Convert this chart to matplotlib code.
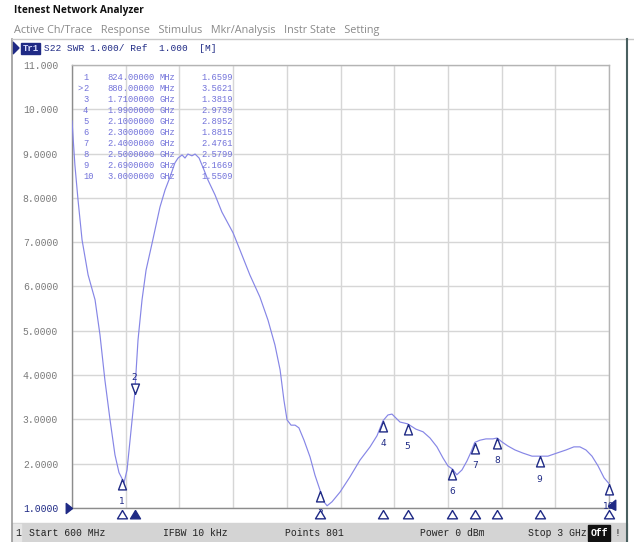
import matplotlib
matplotlib.use("Agg")
import matplotlib.pyplot as plt
from matplotlib.lines import Line2D
from matplotlib.patches import Rectangle, Polygon

# trace S22 SWR (MHz, SWR)
freq_mhz = [600, 613, 627, 645, 672, 703, 725, 747, 770, 792,
            810, 824, 832, 846, 864, 880, 895, 913, 931, 958,
            993, 1016, 1038, 1060, 1074, 1092, 1105, 1118, 1136, 1150,
            1168, 1190, 1208, 1239, 1270, 1320, 1351, 1395, 1440, 1476,
            1507, 1530, 1547, 1561, 1579, 1597, 1614, 1637, 1664, 1686,
            1710, 1726, 1740, 1762, 1798, 1842, 1887, 1932, 1963, 1990,
            2012, 2030, 2048, 2066, 2100, 2137, 2169, 2200, 2231, 2258,
            2280, 2300, 2320, 2343, 2365, 2383, 2400, 2423, 2450, 2481,
            2500, 2522, 2548, 2580, 2615, 2656, 2690, 2727, 2767, 2808,
            2843, 2870, 2897, 2924, 2951, 2978, 3000]
swr = [9.74, 8.74, 7.95, 7.05, 6.26, 5.70, 4.91, 3.89, 2.99, 2.20,
       1.80, 1.66, 1.56, 1.86, 2.76, 3.56, 4.79, 5.70, 6.37, 6.98,
       7.79, 8.18, 8.47, 8.79, 8.90, 8.97, 8.90, 8.99, 8.95, 8.99,
       8.90, 8.63, 8.40, 8.07, 7.68, 7.21, 6.82, 6.26, 5.76, 5.24,
       4.68, 4.12, 3.44, 2.99, 2.87, 2.87, 2.81, 2.53, 2.15, 1.74,
       1.38, 1.14, 1.05, 1.14, 1.36, 1.70, 2.08, 2.38, 2.63, 2.97,
       3.10, 3.12, 3.03, 2.94, 2.90, 2.78, 2.72, 2.58, 2.38, 2.13,
       1.95, 1.88, 1.75, 1.86, 2.06, 2.26, 2.48, 2.53, 2.56, 2.56,
       2.58, 2.49, 2.40, 2.31, 2.24, 2.17, 2.17, 2.17, 2.24, 2.31,
       2.38, 2.38, 2.31, 2.17, 1.95, 1.68, 1.55]

# markers
mkr_num = ["1", "2", "3", "4", "5", "6", "7", "8", "9", "10"]
mkr_freq = [824, 880, 1710, 1990, 2100, 2300, 2400, 2500, 2690, 3000]
mkr_val = [1.6599, 3.5621, 1.3819, 2.9739, 2.8952, 1.8815, 2.4761, 2.5799, 2.1669, 1.5509]
mkr_freq_txt = ["824.00000", "880.00000", "1.7100000", "1.9900000", "2.1000000",
                "2.3000000", "2.4000000", "2.5000000", "2.6900000", "3.0000000"]
mkr_unit = ["MHz", "MHz", "GHz", "GHz", "GHz", "GHz", "GHz", "GHz", "GHz", "GHz"]
active = 1

ytick_vals = [1, 2, 3, 4, 5, 6, 7, 8, 9, 10, 11]
ytick_lbls = ["1.0000", "2.0000", "3.0000", "4.0000", "5.0000", "6.0000",
              "7.0000", "8.0000", "9.0000", "10.000", "11.000"]

W, H = 634, 542
MONO = "Liberation Mono"
NAVY = "#1f2a85"
TRACE = "#8686e6"
TBL = "#7272da"

def fx(x):
    return x / W

def fy(y):
    return 1 - y / H

fig = plt.figure(figsize=(W / 100, H / 100), dpi=100)
fig.patch.set_facecolor("white")

# window frame
fig.add_artist(Line2D([fx(12), fx(12)], [fy(39), 0], color="#9a9a9a", lw=1.2))
fig.add_artist(Line2D([fx(12), 1], [fy(39), fy(39)], color="#c8c8c8", lw=1))
fig.add_artist(Line2D([fx(627), fx(627)], [fy(39), 0], color="#4a6060", lw=1.5))

fig.text(fx(14), fy(11), "Itenest Network Analyzer", fontsize=7.3, fontweight="bold",
         family="Open Sans", va="center", ha="left", color="#111111")
fig.text(fx(14), fy(30), "Active Ch/Trace   Response   Stimulus   Mkr/Analysis   Instr State   Setting",
         fontsize=7.8, family="Open Sans", va="center", ha="left", color="#8a8a8a")

# trace header
fig.add_artist(Polygon([[fx(13), fy(42)], [fx(19), fy(48)], [fx(13), fy(54)]], closed=True,
                       color=NAVY, transform=fig.transFigure))
fig.add_artist(Rectangle((fx(21), fy(54)), fx(19), 11 / H, color=NAVY, transform=fig.transFigure))
fig.text(fx(30.5), fy(48.5), "Tr1", fontsize=6.5, family=MONO, color="#d8dcff",
         ha="center", va="center", fontweight="bold")
fig.text(fx(44), fy(48.5), "S22 SWR 1.000/ Ref  1.000  [M]", fontsize=6.8, family=MONO,
         color=NAVY, ha="left", va="center")

# plot area
ax = fig.add_axes([fx(72), fy(508), 537 / W, (508 - 65) / H])
ax.plot(freq_mhz, swr, color=TRACE, lw=0.85, zorder=3)
ax.set_xlim(600, 3000)
ax.set_ylim(1, 11)
ax.set_xticks(range(600, 3001, 240))
ax.set_yticks(ytick_vals)
ax.set_yticklabels(ytick_lbls, family=MONO, fontsize=7, color="#7a7a7a")
ax.get_yticklabels()[0].set_color(NAVY)
ax.tick_params(axis="y", length=0, pad=10)
ax.tick_params(axis="x", length=0, labelbottom=False)
ax.grid(True, color="#d6d6d6", lw=1)
ax.set_axisbelow(True)
for s in ax.spines.values():
    s.set_color("#b4b4b4")
    s.set_linewidth(1)
ax.spines["left"].set_color("#8c8c8c")
ax.spines["bottom"].set_color("#8c8c8c")

# marker symbols (tip sits on the value)
tri_up = [(0, 0), (-0.38, -1), (0.38, -1), (0, 0)]
tri_dn = [(0, 0), (-0.38, 1), (0.38, 1), (0, 0)]
tri_low = [(0, 0), (-0.6, -1), (0.6, -1), (0, 0)]
xax = ax.get_xaxis_transform()
for i in range(len(mkr_freq)):
    f, v = mkr_freq[i], mkr_val[i]
    if i == active:
        ax.plot(f, v, marker=tri_dn, ms=15, mfc="white", mec=NAVY, mew=1, zorder=5, clip_on=False)
        ax.annotate(mkr_num[i], (f, v), xytext=(0, 12), textcoords="offset points",
                    ha="center", va="center", fontsize=6.5, color=NAVY, annotation_clip=False)
        ax.plot(f, -0.004, marker=tri_low, ms=12, mfc=NAVY, mec=NAVY, mew=1,
                transform=xax, clip_on=False, zorder=5)
    else:
        ax.plot(f, v, marker=tri_up, ms=15, mfc="white", mec=NAVY, mew=1, zorder=5, clip_on=False)
        ax.annotate(mkr_num[i], (f, v), xytext=(0, -16.5), textcoords="offset points",
                    ha="center", va="center", fontsize=6.5, color=NAVY, annotation_clip=False)
        ax.plot(f, -0.004, marker=tri_low, ms=12, mfc="white", mec=NAVY, mew=1,
                transform=xax, clip_on=False, zorder=5)

# reference level pointer and stop pointer
ax.plot(600, 1, marker=[(0, 0), (-1, 0.8), (-1, -0.8), (0, 0)], ms=9, color=NAVY,
        clip_on=False, zorder=6)
ax.plot(3000, 1.05, marker=[(-0.2, 0), (1, 1), (1, -0.6), (-0.2, 0)], ms=9, color=NAVY,
        clip_on=False, zorder=6)

# marker table
for i in range(len(mkr_num)):
    y = 77 + i * 11.1
    if i == active:
        fig.text(fx(78), fy(y), ">", fontsize=6.3, family=MONO, color=TBL, ha="left", va="center")
    fig.text(fx(83), fy(y), mkr_num[i], fontsize=6.3, family=MONO, color=TBL, ha="left", va="center")
    fig.text(fx(107), fy(y), mkr_freq_txt[i], fontsize=6.3, family=MONO, color=TBL, ha="left", va="center")
    fig.text(fx(160), fy(y), mkr_unit[i], fontsize=6.3, family=MONO, color=TBL, ha="left", va="center")
    fig.text(fx(233), fy(y), "%.4f" % mkr_val[i], fontsize=6.3, family=MONO, color=TBL,
             ha="right", va="center")

# status bar
fig.add_artist(Rectangle((fx(12), 0), fx(615), 19 / H, color="#d4d4d4", transform=fig.transFigure))
fig.add_artist(Rectangle((fx(13), fy(541)), fx(8), 17 / H, color="#e6e6e6", transform=fig.transFigure))
sb = [(15, "1"), (29, "Start 600 MHz"), (163, "IFBW 10 kHz"), (285, "Points 801"),
      (420, "Power 0 dBm"), (528, "Stop 3 GHz")]
for x, t in sb:
    fig.text(fx(x), fy(533), t, fontsize=7, family=MONO, color="#222222", ha="left", va="center")
fig.add_artist(Rectangle((fx(588), fy(541)), fx(22), 16 / H, color="#111111", transform=fig.transFigure))
fig.text(fx(599), fy(533), "Off", fontsize=7, family=MONO, color="white", ha="center",
         va="center", fontweight="bold")
fig.text(fx(617), fy(533), "!", fontsize=7, family=MONO, color="#222222", ha="center", va="center")

fig.savefig("out.png", dpi=100)
